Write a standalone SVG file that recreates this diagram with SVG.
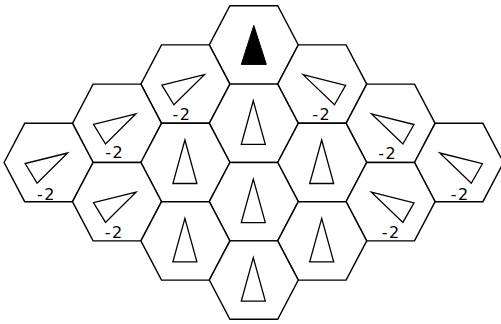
<svg xmlns="http://www.w3.org/2000/svg" xmlns:xlink="http://www.w3.org/1999/xlink" width="501" height="324" viewBox="0 0 501 324">
<style>
.hex{fill:#fff;stroke:#000;stroke-width:1.4}
.tri{fill:none;stroke:#000;stroke-width:1.3;stroke-linejoin:miter}
.solid{fill:#000;stroke:#000;stroke-width:1}
.lbl{font-family:"DejaVu Sans",sans-serif;font-size:16px;fill:#000;text-anchor:middle;letter-spacing:1.5px}
</style>
<defs>
<polygon id="hex" class="hex" points="-44.5,0 -23.9,-39.2 23.9,-39.2 44.5,0 23.9,39.2 -23.9,39.2"/>
<polygon id="up" class="tri" points="-0.5,-22.5 11.5,21 -12.5,21"/>
<polygon id="tl" class="tri" points="19,-9.5 -23.5,1 -11.5,20.7"/>
<polygon id="tr" class="tri" points="-19.2,-9.5 23.4,1.2 12.3,20.7"/>
</defs>
<rect width="501" height="324" fill="#fff"/>
<g id="n_c0_r0" transform="translate(253.8,44.9)"><use xlink:href="#hex"/><polygon class="solid" points="0,-19.5 12.5,19.5 -12.5,19.5"/></g>
<g id="n_cm1_r1" transform="translate(185.4,84.1)"><use xlink:href="#hex"/><use xlink:href="#tl"/></g>
<g id="n_cp1_r1" transform="translate(322.2,84.1)"><use xlink:href="#hex"/><use xlink:href="#tr"/></g>
<g id="n_cm2_r2" transform="translate(117,123.3)"><use xlink:href="#hex"/><use xlink:href="#tl"/></g>
<g id="n_c0_r2" transform="translate(253.8,123.3)"><use xlink:href="#hex"/><use xlink:href="#up"/></g>
<g id="n_cp2_r2" transform="translate(390.6,123.3)"><use xlink:href="#hex"/><use xlink:href="#tr"/></g>
<g id="n_cm3_r3" transform="translate(48.6,162.5)"><use xlink:href="#hex"/><use xlink:href="#tl"/></g>
<g id="n_cm1_r3" transform="translate(185.4,162.5)"><use xlink:href="#hex"/><use xlink:href="#up"/></g>
<g id="n_cp1_r3" transform="translate(322.2,162.5)"><use xlink:href="#hex"/><use xlink:href="#up"/></g>
<g id="n_cp3_r3" transform="translate(459,162.5)"><use xlink:href="#hex"/><use xlink:href="#tr"/></g>
<g id="n_cm2_r4" transform="translate(117,201.7)"><use xlink:href="#hex"/><use xlink:href="#tl"/></g>
<g id="n_c0_r4" transform="translate(253.8,201.7)"><use xlink:href="#hex"/><use xlink:href="#up"/></g>
<g id="n_cp2_r4" transform="translate(390.6,201.7)"><use xlink:href="#hex"/><use xlink:href="#tr"/></g>
<g id="n_cm1_r5" transform="translate(185.4,240.9)"><use xlink:href="#hex"/><use xlink:href="#up"/></g>
<g id="n_cp1_r5" transform="translate(322.2,240.9)"><use xlink:href="#hex"/><use xlink:href="#up"/></g>
<g id="n_c0_r6" transform="translate(253.8,280.1)"><use xlink:href="#hex"/><use xlink:href="#up"/></g>
<g id="labels">
<text class="lbl" x="182" y="120">-2</text>
<text class="lbl" x="321.8" y="120">-2</text>
<text class="lbl" x="114.8" y="158">-2</text>
<text class="lbl" x="387.8" y="159">-2</text>
<text class="lbl" x="46.5" y="199.5">-2</text>
<text class="lbl" x="460.2" y="200">-2</text>
<text class="lbl" x="114.3" y="238.3">-2</text>
<text class="lbl" x="391.3" y="238.3">-2</text>
</g>
</svg>
